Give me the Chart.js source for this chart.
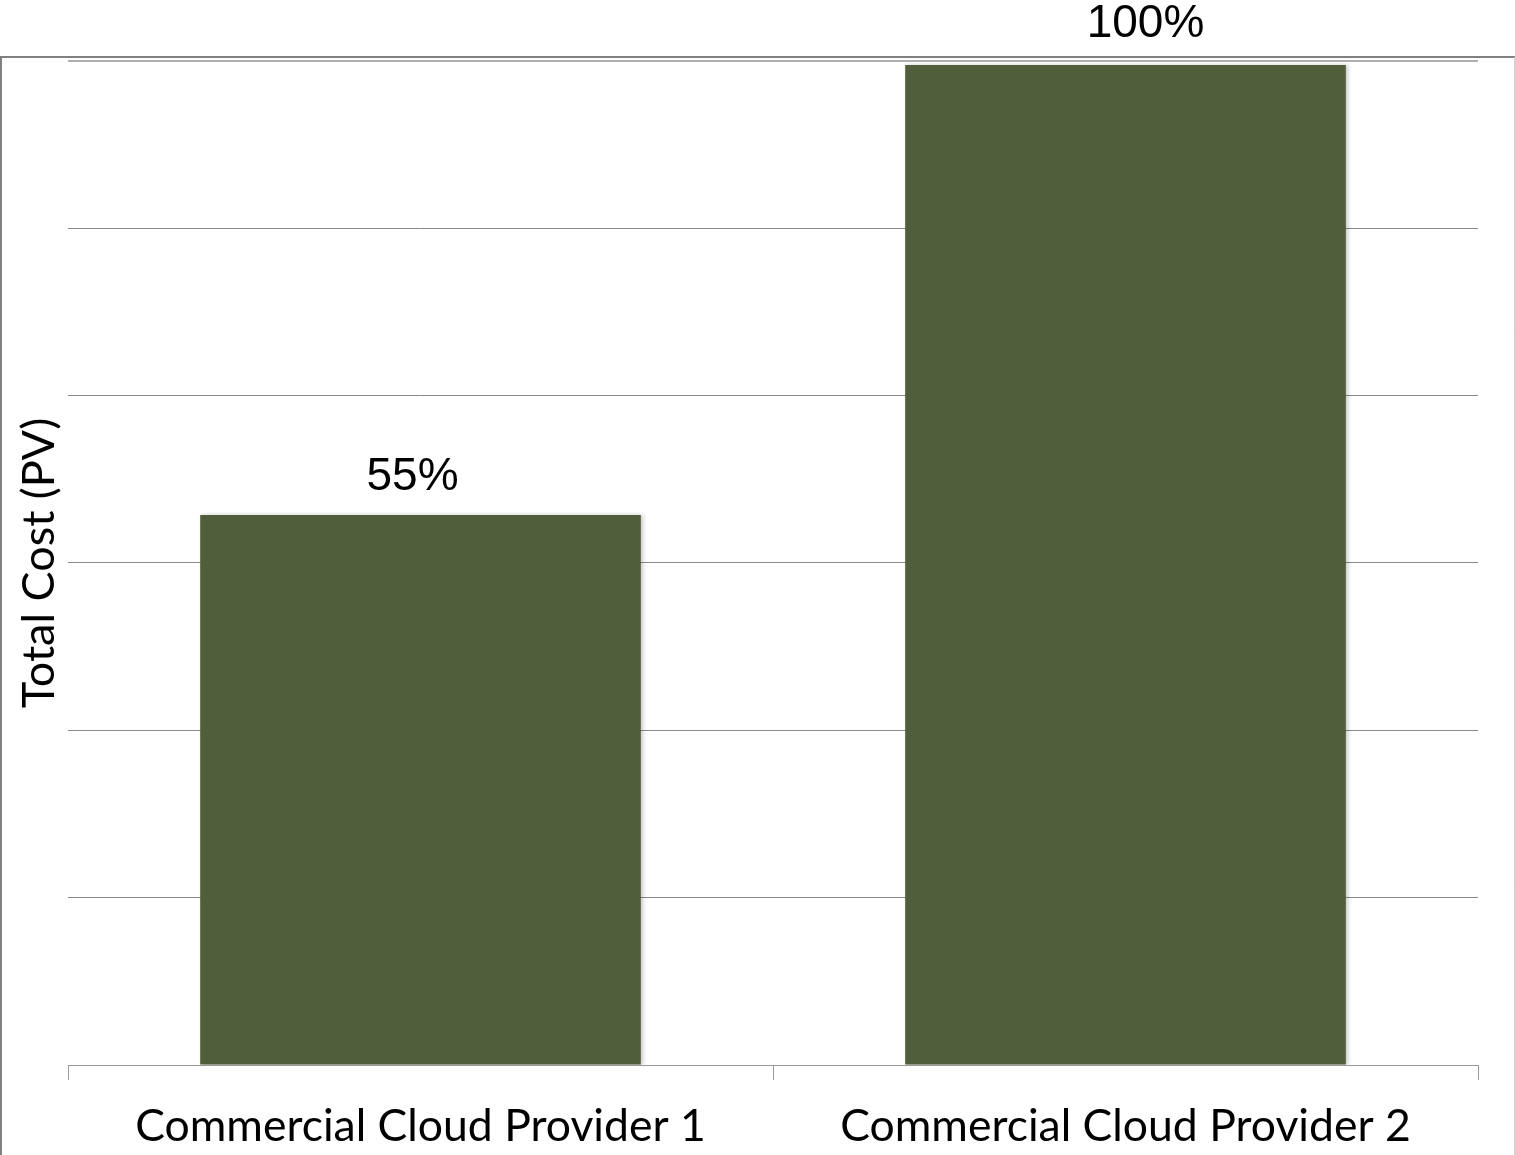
<!DOCTYPE html>
<html>
<head>
<meta charset="utf-8">
<script src="https://cdn.jsdelivr.net/npm/chart.js@4.4.1/dist/chart.umd.min.js"></script>
<style>
html,body{margin:0;padding:0;background:#fff;}
#wrap{width:1515px;height:1155px;position:relative;}
</style>
</head>
<body>
<div id="wrap"><canvas id="c" width="1515" height="1155"></canvas></div>
<script>
const categories = ["Commercial Cloud Provider 1", "Commercial Cloud Provider 2"];
const totalCostPct = [55, 100];
const dataLabels = ["55%", "100%"];
const axisTitle = "Total Cost (PV)";
const yMax = 100.4;
const gridSteps = 6;

const frame = {
  id: 'frame',
  beforeDraw(chart) {
    const ctx = chart.ctx;
    ctx.save();
    ctx.fillStyle = '#fff';
    ctx.fillRect(0, 0, chart.width, chart.height);
    ctx.strokeStyle = '#808080';
    ctx.lineWidth = 2;
    ctx.beginPath();
    ctx.moveTo(0, 57); ctx.lineTo(chart.width, 57);
    ctx.moveTo(1, 57); ctx.lineTo(1, chart.height);
    ctx.stroke();
    ctx.strokeStyle = '#d0d0d0';
    ctx.lineWidth = 1;
    ctx.beginPath();
    ctx.moveTo(1514.5, 57); ctx.lineTo(1514.5, chart.height);
    ctx.stroke();
    ctx.restore();
  }
};

const barShadow = {
  id: 'barShadow',
  beforeDatasetsDraw(chart) {
    const ctx = chart.ctx;
    ctx.save();
    ctx.shadowColor = 'rgba(0,0,0,0.22)';
    ctx.shadowBlur = 4;
    ctx.shadowOffsetX = 2;
    ctx.shadowOffsetY = 0;
  },
  afterDatasetsDraw(chart) {
    chart.ctx.restore();
  }
};

const labelNudgeX = [-8, 20];
const labelNudgeY = [0, -3];
const valueLabels = {
  id: 'valueLabels',
  afterDraw(chart) {
    const ctx = chart.ctx;
    const meta = chart.getDatasetMeta(0);
    ctx.save();
    ctx.font = '46px "Liberation Sans", Arial, sans-serif';
    ctx.fillStyle = '#000';
    ctx.textAlign = 'center';
    ctx.textBaseline = 'alphabetic';
    meta.data.forEach((bar, i) => {
      ctx.fillText(dataLabels[i], bar.x + labelNudgeX[i], bar.y - 25 + labelNudgeY[i]);
    });
    ctx.restore();
  }
};

new Chart(document.getElementById('c'), {
  type: 'bar',
  data: {
    labels: categories,
    datasets: [{
      data: totalCostPct,
      backgroundColor: '#515e3b',
      borderWidth: 0,
      categoryPercentage: 1.0,
      barPercentage: 0.625
    }]
  },
  options: {
    responsive: false,
    animation: false,
    devicePixelRatio: 1,
    layout: { padding: { left: 0, right: 37, top: 61, bottom: 0 } },
    plugins: { legend: { display: false }, tooltip: { enabled: false } },
    scales: {
      x: {
        afterFit(s) { s.height = 90; },
        grid: {
          offset: true,
          drawOnChartArea: false,
          drawTicks: true,
          tickLength: 15,
          color: '#999'
        },
        border: { display: true, color: '#999', width: 1 },
        ticks: {
          color: '#000',
          padding: 20,
          font: { family: 'Lato, "Noto Sans", sans-serif', size: 44.5 },
          maxRotation: 0
        }
      },
      y: {
        min: 0,
        max: yMax,
        afterFit(s) { s.width = 68; },
        afterBuildTicks(s) {
          const t = [];
          for (let i = 0; i <= gridSteps; i++) t.push({ value: yMax * i / gridSteps });
          s.ticks = t;
        },
        grid: {
          drawTicks: false,
          color: (c) => c.index === gridSteps ? '#b0b0b0' : '#8a8a8a',
          lineWidth: (c) => c.index === gridSteps ? 2 : 1
        },
        border: { display: false },
        ticks: { display: false },
        title: {
          display: true,
          text: axisTitle,
          color: '#000',
          padding: { top: 12, bottom: 0 },
          font: { family: 'Lato, "Noto Sans", sans-serif', size: 45 }
        }
      }
    }
  },
  plugins: [frame, barShadow, valueLabels]
});
</script>
</body>
</html>
